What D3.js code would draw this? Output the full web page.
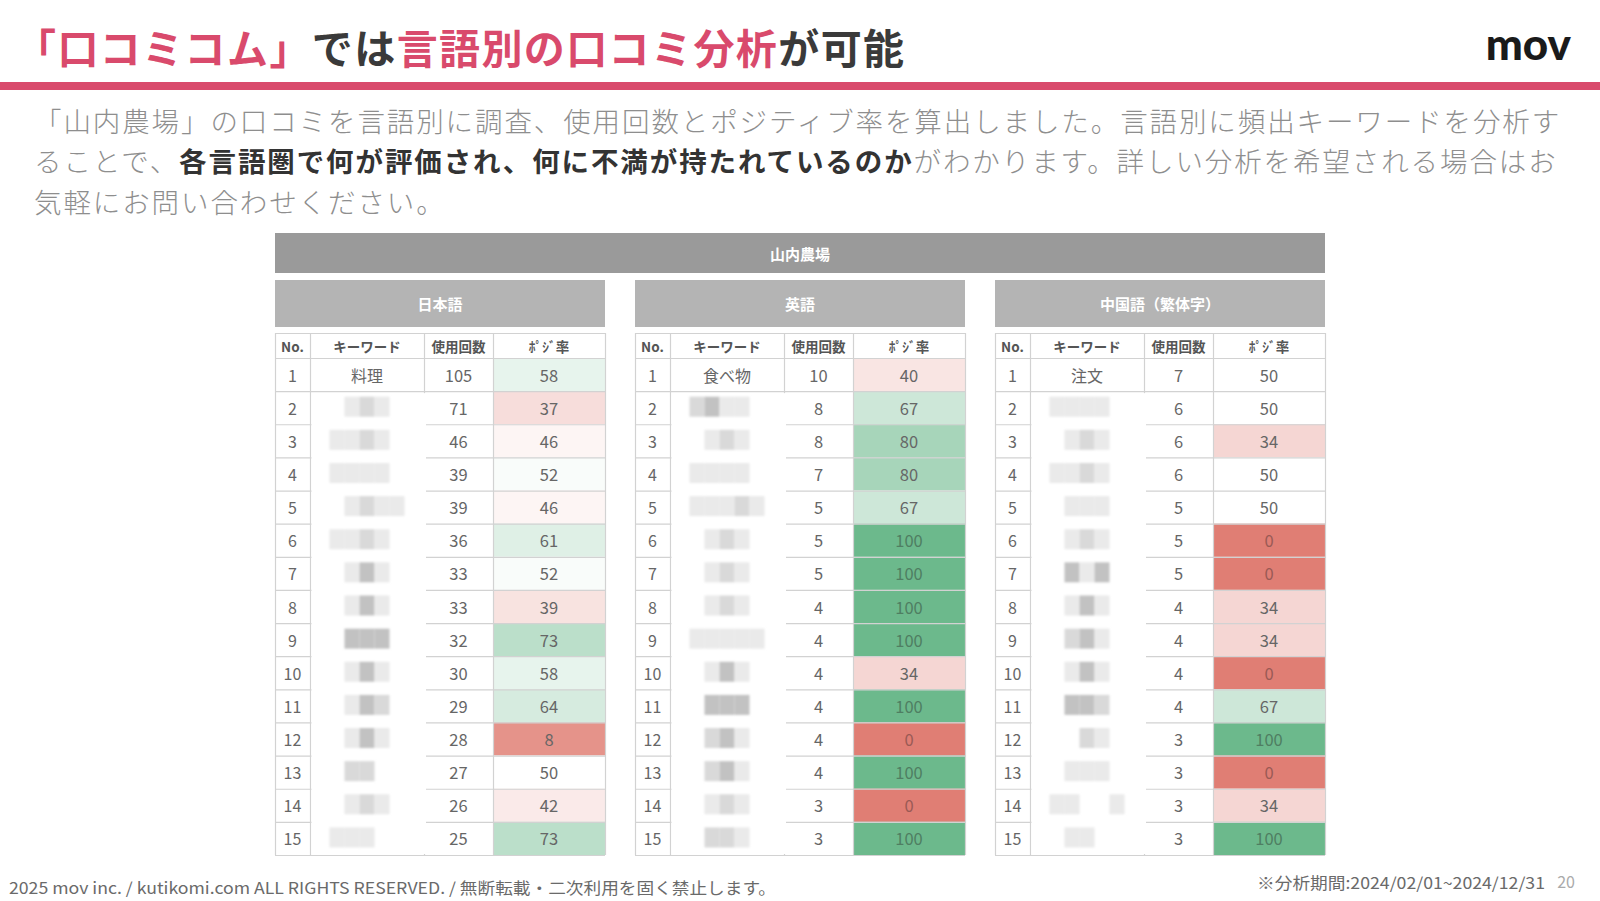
<!DOCTYPE html>
<html><head><meta charset="utf-8">
<script src="https://cdn.jsdelivr.net/npm/d3@7"></script>
<style>
body{margin:0;background:#fff;}
svg{display:block;font-family:"Noto Sans CJK JP","Noto Sans",sans-serif;}
</style>
</head><body>
<svg id="c" width="1600" height="901"></svg>
<script>
// ---------- data ----------
const titleParts = [
  {t:"「口コミコム」", pink:true},
  {t:"では", pink:false},
  {t:"言語別の口コミ分析", pink:true},
  {t:"が可能", pink:false}
];
const bodyLines = [
  [{t:"「山内農場」の口コミを言語別に調査、使用回数とポジティブ率を算出しました。言語別に頻出キーワードを分析す", b:false}],
  [{t:"ることで、", b:false},{t:"各言語圏で何が評価され、何に不満が持たれているのか", b:true},{t:"がわかります。詳しい分析を希望される場合はお", b:false}],
  [{t:"気軽にお問い合わせください。", b:false}]
];
const tableTitle = "山内農場";
const languages = ["日本語", "英語", "中国語（繁体字）"];
const columnHeaders = ["No.", "キーワード", "使用回数", "ﾎﾟｼﾞ率"];
const ranks = [1,2,3,4,5,6,7,8,9,10,11,12,13,14,15];
const topKeywords = ["料理", "食べ物", "注文"];
const countsJa = [105,71,46,39,39,36,33,33,32,30,29,28,27,26,25];
const posiJa   = [58,37,46,52,46,61,52,39,73,58,64,8,50,42,73];
const countsEn = [10,8,8,7,5,5,5,4,4,4,4,4,4,3,3];
const posiEn   = [40,67,80,80,67,100,100,100,100,34,100,0,100,0,100];
const countsZh = [7,6,6,6,5,5,5,4,4,4,4,3,3,3,3];
const posiZh   = [50,50,34,50,50,0,0,34,34,0,67,100,0,34,100];
// redacted (mosaic) keyword cells, rows 2-15, gray level per block
const mosaicJa = ["0012100","0112100","0111100","0012110","0112100","0013100","0013100","0033300","0013100","0013200","0013100","0022000","0012100","0111000"];
const mosaicEn = ["0231100","0012100","0111100","0111210","0012100","0012100","0012100","0111110","0013100","0033300","0023100","0023100","0012100","0022100"];
const mosaicZh = ["0111100","0012100","0112100","0011100","0012100","0031300","0013100","0023100","0013100","0033200","0002100","0011100","0110010","0011000"];
const footerLeft = "2025 mov inc. / kutikomi.com ALL RIGHTS RESERVED. / 無断転載・二次利用を固く禁止します。";
const footerRight = "※分析期間:2024/02/01~2024/12/31";
const pageNo = "20";

// ---------- drawing ----------
const svg = d3.select("#c");
const PINK = "#d94a6c";

// title
const title = svg.append("text").attr("x", 15).attr("y", 46)
  .attr("dominant-baseline","central")
  .attr("font-size", 41).attr("font-weight", 700).attr("letter-spacing", 1.4);
title.selectAll("tspan").data(titleParts).join("tspan")
  .attr("fill", d => d.pink ? PINK : "#3a3a3a").text(d => d.t);

svg.append("text").attr("x", 1571).attr("y", 43).attr("text-anchor","end")
  .attr("dominant-baseline","central")
  .attr("font-family","Lato, 'Noto Sans', sans-serif").attr("font-weight",900)
  .attr("font-size", 44).attr("fill","#1a1a1a").text("mov");

svg.append("rect").attr("x",0).attr("y",82).attr("width",1600).attr("height",8).attr("fill",PINK);

// body
const lineY = [120, 160, 201];
bodyLines.forEach((parts, i) => {
  const t = svg.append("text").attr("x", 34).attr("y", lineY[i])
    .attr("dominant-baseline","central").attr("font-size", 27.5)
    .attr("letter-spacing", 1.9);
  t.selectAll("tspan").data(parts).join("tspan")
    .attr("fill", d => d.b ? "#333" : "#8e8e8e")
    .attr("font-weight", d => d.b ? 700 : 300)
    .text(d => d.t);
});

// table
const panelX = d3.scaleBand().domain(languages).range([275, 1325]).paddingInner(30/360).paddingOuter(0);
const colUnits = [35, 114, 69, 112];
const colEdges = colUnits.reduce((a, w) => { a.push(a[a.length-1] + w); return a; }, [0]);
const rowY = d3.scaleBand().domain(ranks).range([358, 855]).padding(0);
const color = d3.scaleLinear().domain([0, 50, 100]).range(["#e07e74", "#ffffff", "#6cb98c"]);
const LINE = "#d2d2d2";
const levelColor = ["none", "#eaeaea", "#d9d9d9", "#c2c2c2"];

svg.append("rect").attr("x",275).attr("y",233).attr("width",1050).attr("height",40).attr("fill","#9a9a9a");
svg.append("text").attr("x",800).attr("y",253).attr("text-anchor","middle").attr("dominant-baseline","central")
  .attr("font-size",15).attr("font-weight",700).attr("fill","#fff").text(tableTitle);

const tables = [
  {lang: languages[0], counts: countsJa, posi: posiJa, kw: topKeywords[0], mosaic: mosaicJa},
  {lang: languages[1], counts: countsEn, posi: posiEn, kw: topKeywords[1], mosaic: mosaicEn},
  {lang: languages[2], counts: countsZh, posi: posiZh, kw: topKeywords[2], mosaic: mosaicZh}
];

const blur = svg.append("defs").append("filter").attr("id","soft");
blur.append("feGaussianBlur").attr("stdDeviation", 1.2);

tables.forEach(tb => {
  const x0 = panelX(tb.lang), bw = panelX.bandwidth();
  const cx = d3.scaleLinear().domain([0, 330]).range([x0, x0 + bw]);
  const g = svg.append("g");
  // sub header
  g.append("rect").attr("x", x0).attr("y", 280).attr("width", bw).attr("height", 47).attr("fill", "#b4b4b4");
  g.append("text").attr("x", x0 + bw/2).attr("y", 303.5).attr("text-anchor","middle").attr("dominant-baseline","central")
    .attr("font-size",15).attr("font-weight",700).attr("fill","#fff").text(tb.lang);
  // posi cell backgrounds
  g.selectAll("rect.p").data(tb.posi).join("rect").attr("class","p")
    .attr("x", cx(colEdges[3])).attr("y", (d,i) => rowY(ranks[i]))
    .attr("width", cx(colEdges[4]) - cx(colEdges[3])).attr("height", rowY.bandwidth())
    .attr("fill", d => color(d));
  // grid: horizontal
  const hy = [333].concat(ranks.map(r => rowY(r))).concat([855]);
  g.selectAll("line.h").data(hy).join("line").attr("class","h")
    .attr("x1", x0).attr("x2", x0 + bw).attr("y1", d => d + 0.5).attr("y2", d => d + 0.5)
    .attr("stroke", LINE).attr("stroke-width", 1.2);
  g.selectAll("line.v").data(colEdges).join("line").attr("class","v")
    .attr("x1", d => cx(d) + 0.5).attr("x2", d => cx(d) + 0.5).attr("y1", 333).attr("y2", 855)
    .attr("stroke", LINE).attr("stroke-width", 1.2);
  // header texts
  g.selectAll("text.hd").data(columnHeaders).join("text").attr("class","hd")
    .attr("x", (d,i) => (cx(colEdges[i]) + cx(colEdges[i+1]))/2).attr("y", 345.5)
    .attr("text-anchor","middle").attr("dominant-baseline","central")
    .attr("font-size", 13.5).attr("font-weight", 700).attr("fill", "#555").text(d => d);
  // redaction overlay for keywords rows 2-15
  const kx0 = cx(colEdges[1]) + 1.5, kx1 = cx(colEdges[2]) + 2;
  const ry0 = rowY(ranks[1]) + 2;
  g.append("rect").attr("x", kx0).attr("y", ry0).attr("width", kx1 - kx0).attr("height", 854 - ry0).attr("fill", "#fff");
  const kc = (cx(colEdges[1]) + cx(colEdges[2]))/2;
  const mg = g.append("g").attr("filter","url(#soft)");
  tb.mosaic.forEach((pat, ri) => {
    const r = ranks[ri + 1];
    const yc = rowY(r) + rowY.bandwidth()/2;
    pat.split("").forEach((c, bi) => {
      const lv = +c;
      if (!lv) return;
      mg.append("rect").attr("x", kc - 52.5 + bi*15).attr("y", yc - 11).attr("width", 15).attr("height", 20)
        .attr("fill", levelColor[lv]);
    });
  });
  // row texts
  const rows = ranks.map((r, i) => ({r, c: tb.counts[i], p: tb.posi[i]}));
  g.selectAll("text.no").data(rows).join("text").attr("class","no")
    .attr("x", (cx(colEdges[0]) + cx(colEdges[1]))/2).attr("y", d => rowY(d.r) + rowY.bandwidth()/2)
    .attr("text-anchor","middle").attr("dominant-baseline","central")
    .attr("font-size", 16).attr("fill", "#666").text(d => d.r);
  g.append("text").attr("x", kc).attr("y", rowY(ranks[0]) + rowY.bandwidth()/2)
    .attr("text-anchor","middle").attr("dominant-baseline","central")
    .attr("font-size", 16).attr("fill", "#666").text(tb.kw);
  g.selectAll("text.cnt").data(rows).join("text").attr("class","cnt")
    .attr("x", (cx(colEdges[2]) + cx(colEdges[3]))/2).attr("y", d => rowY(d.r) + rowY.bandwidth()/2)
    .attr("text-anchor","middle").attr("dominant-baseline","central")
    .attr("font-size", 16.5).attr("fill", "#666").text(d => d.c);
  g.selectAll("text.ps").data(rows).join("text").attr("class","ps")
    .attr("x", (cx(colEdges[3]) + cx(colEdges[4]))/2).attr("y", d => rowY(d.r) + rowY.bandwidth()/2)
    .attr("text-anchor","middle").attr("dominant-baseline","central")
    .attr("font-size", 16.5).attr("fill", d => d.p === 100 ? "#4f7e62" : (d.p === 0 ? "#9a5a55" : "#666")).text(d => d.p);
});

// footer
svg.append("text").attr("x", 9).attr("y", 887).attr("dominant-baseline","central")
  .attr("font-size", 16).attr("fill", "#6a6a6a").attr("textLength", 767).attr("lengthAdjust","spacingAndGlyphs")
  .text(footerLeft);
svg.append("text").attr("x", 1257).attr("y", 882).attr("dominant-baseline","central")
  .attr("font-size", 16).attr("fill", "#6a6a6a").attr("textLength", 288).attr("lengthAdjust","spacingAndGlyphs")
  .text(footerRight);
svg.append("text").attr("x", 1575).attr("y", 881).attr("text-anchor","end").attr("dominant-baseline","central")
  .attr("font-size", 16).attr("fill", "#aaa").text(pageNo);
</script>
</body></html>
